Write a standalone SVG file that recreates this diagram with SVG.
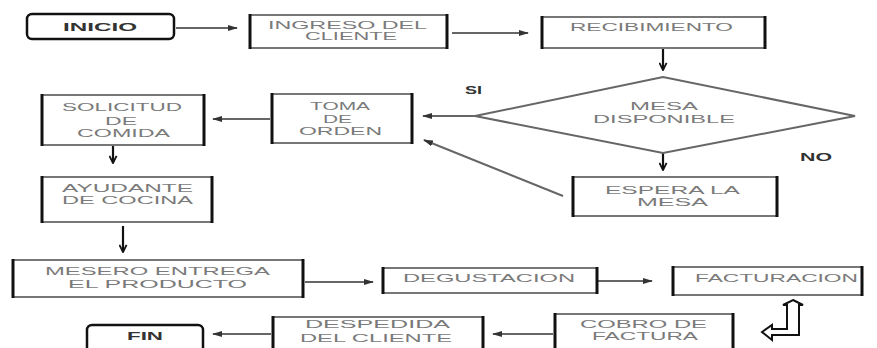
<svg xmlns="http://www.w3.org/2000/svg" width="877" height="348" viewBox="0 0 877 348">
<style>
.bg{fill:#fff}
.box{fill:#fff;stroke:#777;stroke-width:2}
.side{stroke:#111;stroke-width:3}
.rnd{fill:#fff;stroke:#111;stroke-width:2.5}
.t{font-family:"Liberation Sans",Arial,sans-serif;font-size:11px;fill:#7a7a7a}
.tb{font-family:"Liberation Sans",Arial,sans-serif;font-size:11px;font-weight:bold;fill:#333}
.c{fill:none;stroke:#666;stroke-width:2}
.ch{stroke:#111;stroke-width:2.2}
.dia{fill:#fff;stroke:#666;stroke-width:2}
</style>
<defs>
<marker id="ah2" viewBox="0 0 10 10" refX="9" refY="5" markerWidth="9" markerHeight="9" orient="auto" markerUnits="userSpaceOnUse">
<path d="M1,1 L9,5 L1,9" fill="none" stroke="#111" stroke-width="2"/>
</marker>
<marker id="ah3" viewBox="0 0 10 10" refX="9" refY="5" markerWidth="10" markerHeight="10" orient="auto" markerUnits="userSpaceOnUse">
<path d="M0,2 L10,5 L0,8 Z" fill="#333"/>
</marker>
</defs>
<rect class="bg" x="0" y="0" width="877" height="348"/>

<g id="connectors">
<line class="c" x1="176" y1="28" x2="237" y2="28" marker-end="url(#ah3)"/>
<line class="c" x1="452" y1="33" x2="528" y2="33" marker-end="url(#ah3)"/>
<line class="c ch" x1="663" y1="48" x2="663" y2="70" marker-end="url(#ah2)"/>
<line class="c" x1="475" y1="116" x2="423" y2="116" marker-end="url(#ah3)"/>
<line class="c ch" x1="663" y1="153" x2="663" y2="170" marker-end="url(#ah2)"/>
<line class="c" x1="563" y1="196" x2="424" y2="140" marker-end="url(#ah3)"/>
<line class="c" x1="270" y1="119" x2="213" y2="119" marker-end="url(#ah3)"/>
<line class="c ch" x1="113" y1="145" x2="113" y2="163" marker-end="url(#ah2)"/>
<line class="c ch" x1="123" y1="226" x2="123" y2="252" marker-end="url(#ah2)"/>
<line class="c" x1="305" y1="282" x2="373" y2="282" marker-end="url(#ah3)"/>
<line class="c" x1="598" y1="281" x2="652" y2="281" marker-end="url(#ah3)"/>
<path d="M793,300 L803,305 L799,305 L799,335 L772,335 L772,340 L762,332 L772,325 L772,329 L787,329 L787,305 L783,305 Z" fill="#fff" stroke="#111" stroke-width="2" stroke-linejoin="miter"/>
<line class="c" x1="553" y1="334" x2="493" y2="334" marker-end="url(#ah3)"/>
<line class="c" x1="271" y1="334" x2="213" y2="334" marker-end="url(#ah3)"/>
</g>

<g id="inicio">
<rect class="rnd" x="27" y="14" width="147" height="25" rx="5"/>
<text class="tb" x="63" y="31" textLength="74" lengthAdjust="spacingAndGlyphs">INICIO</text>
</g>

<g id="ingreso">
<rect class="box" x="250" y="15" width="197" height="33"/>
<line class="side" x1="250" y1="14" x2="250" y2="49"/><line class="side" x1="447" y1="14" x2="447" y2="49"/>
<text class="t" x="268" y="29" textLength="159" lengthAdjust="spacingAndGlyphs">INGRESO DEL</text>
<text class="t" x="305" y="40" textLength="92" lengthAdjust="spacingAndGlyphs">CLIENTE</text>
</g>

<g id="recibimiento">
<rect class="box" x="542" y="17" width="223" height="31"/>
<line class="side" x1="542" y1="16" x2="542" y2="49"/><line class="side" x1="765" y1="16" x2="765" y2="49"/>
<text class="t" x="570" y="31" textLength="163" lengthAdjust="spacingAndGlyphs">RECIBIMIENTO</text>
</g>

<g id="mesa-disponible">
<polygon class="dia" points="475,116 663,77 855,116 663,153"/>
<text class="t" x="630" y="110" textLength="68" lengthAdjust="spacingAndGlyphs">MESA</text>
<text class="t" x="593" y="123" textLength="142" lengthAdjust="spacingAndGlyphs">DISPONIBLE</text>
</g>

<g id="label-si"><text class="tb" x="465" y="94" textLength="17" lengthAdjust="spacingAndGlyphs">SI</text></g>
<g id="label-no"><text class="tb" x="800" y="161" textLength="32" lengthAdjust="spacingAndGlyphs">NO</text></g>

<g id="toma-orden">
<rect class="box" x="272" y="94" width="140" height="49"/>
<line class="side" x1="272" y1="93" x2="272" y2="144"/><line class="side" x1="412" y1="93" x2="412" y2="144"/>
<text class="t" x="310" y="110" textLength="60" lengthAdjust="spacingAndGlyphs">TOMA</text>
<text class="t" x="323" y="123" textLength="29" lengthAdjust="spacingAndGlyphs">DE</text>
<text class="t" x="299" y="135" textLength="83" lengthAdjust="spacingAndGlyphs">ORDEN</text>
</g>

<g id="espera-mesa">
<rect class="box" x="573" y="177" width="204" height="39"/>
<line class="side" x1="573" y1="176" x2="573" y2="217"/><line class="side" x1="777" y1="176" x2="777" y2="217"/>
<text class="t" x="605" y="194" textLength="135" lengthAdjust="spacingAndGlyphs">ESPERA LA</text>
<text class="t" x="637" y="206" textLength="71" lengthAdjust="spacingAndGlyphs">MESA</text>
</g>

<g id="solicitud">
<rect class="box" x="42" y="95" width="162" height="50"/>
<line class="side" x1="42" y1="94" x2="42" y2="146"/><line class="side" x1="204" y1="94" x2="204" y2="146"/>
<text class="t" x="62" y="111" textLength="120" lengthAdjust="spacingAndGlyphs">SOLICITUD</text>
<text class="t" x="105" y="125" textLength="32" lengthAdjust="spacingAndGlyphs">DE</text>
<text class="t" x="77" y="137" textLength="93" lengthAdjust="spacingAndGlyphs">COMIDA</text>
</g>

<g id="ayudante">
<rect class="box" x="42" y="177" width="170" height="45"/>
<line class="side" x1="42" y1="176" x2="42" y2="223"/><line class="side" x1="212" y1="176" x2="212" y2="223"/>
<text class="t" x="62" y="192" textLength="131" lengthAdjust="spacingAndGlyphs">AYUDANTE</text>
<text class="t" x="62" y="204" textLength="131" lengthAdjust="spacingAndGlyphs">DE COCINA</text>
</g>

<g id="mesero">
<rect class="box" x="13" y="260" width="290" height="37"/>
<line class="side" x1="13" y1="259" x2="13" y2="298"/><line class="side" x1="303" y1="259" x2="303" y2="298"/>
<text class="t" x="45" y="275" textLength="225" lengthAdjust="spacingAndGlyphs">MESERO ENTREGA</text>
<text class="t" x="68" y="288" textLength="179" lengthAdjust="spacingAndGlyphs">EL  PRODUCTO</text>
</g>

<g id="degustacion">
<rect class="box" x="383" y="268" width="214" height="25"/>
<line class="side" x1="383" y1="267" x2="383" y2="294"/><line class="side" x1="597" y1="267" x2="597" y2="294"/>
<text class="t" x="403" y="282" textLength="172" lengthAdjust="spacingAndGlyphs">DEGUSTACION</text>
</g>

<g id="facturacion">
<rect class="box" x="673" y="267" width="189" height="28"/>
<line class="side" x1="673" y1="266" x2="673" y2="296"/><line class="side" x1="862" y1="266" x2="862" y2="296"/>
<text class="t" x="695" y="282" textLength="163" lengthAdjust="spacingAndGlyphs">FACTURACION</text>
</g>

<g id="cobro">
<rect class="box" x="555" y="314" width="178" height="40"/>
<line class="side" x1="555" y1="313" x2="555" y2="348"/><line class="side" x1="733" y1="313" x2="733" y2="348"/>
<text class="t" x="580" y="328" textLength="127" lengthAdjust="spacingAndGlyphs">COBRO DE</text>
<text class="t" x="592" y="340" textLength="106" lengthAdjust="spacingAndGlyphs">FACTURA</text>
</g>

<g id="despedida">
<rect class="box" x="273" y="317" width="210" height="40"/>
<line class="side" x1="273" y1="316" x2="273" y2="348"/><line class="side" x1="483" y1="316" x2="483" y2="348"/>
<text class="t" x="305" y="328" textLength="145" lengthAdjust="spacingAndGlyphs">DESPEDIDA</text>
<text class="t" x="300" y="342" textLength="152" lengthAdjust="spacingAndGlyphs">DEL CLIENTE</text>
</g>

<g id="fin">
<rect class="rnd" x="87" y="325" width="116" height="30" rx="5"/>
<text class="tb" x="127" y="340" textLength="36" lengthAdjust="spacingAndGlyphs">FIN</text>
</g>
</svg>
